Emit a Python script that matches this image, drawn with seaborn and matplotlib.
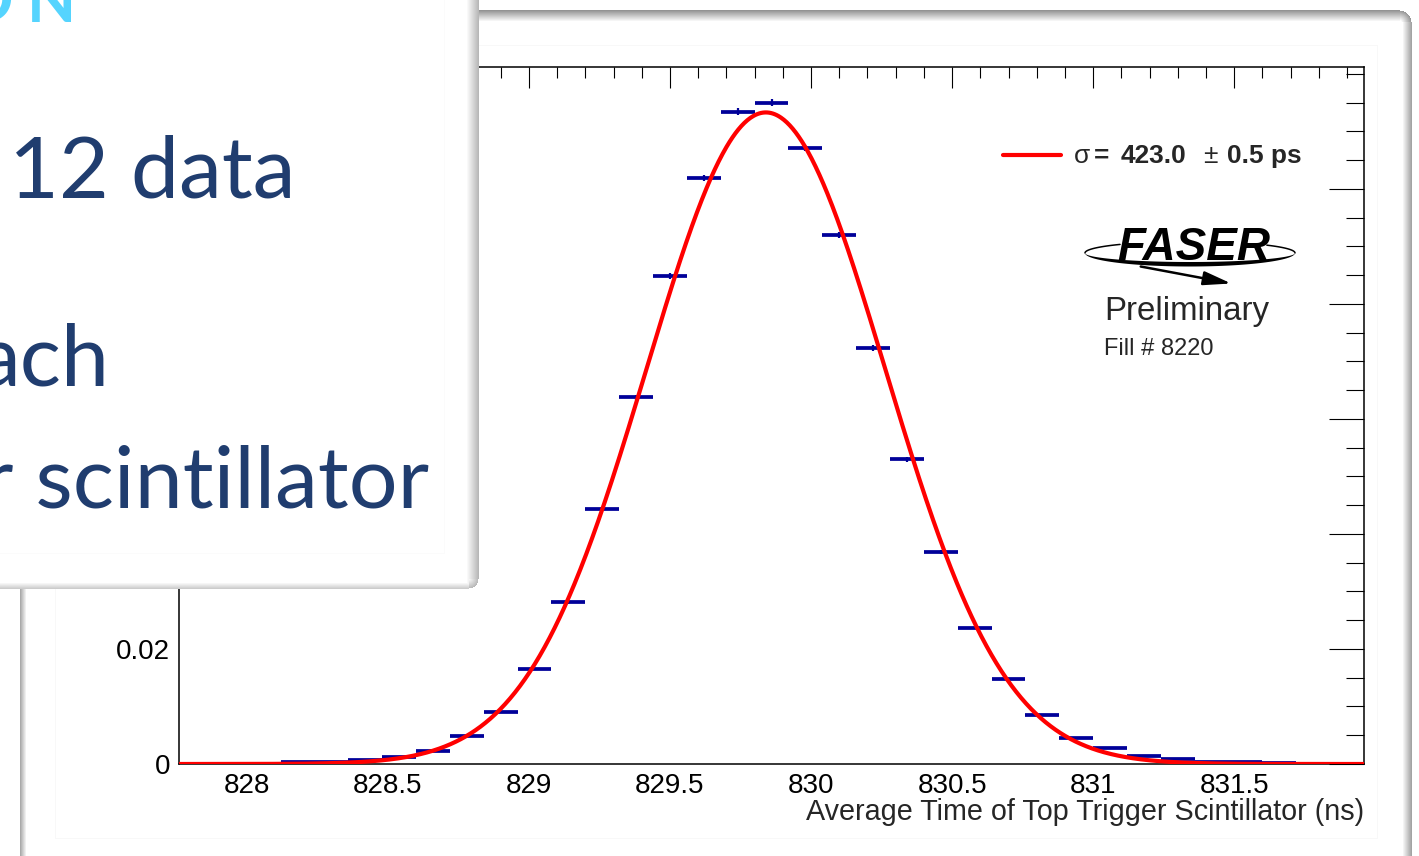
import numpy as np
import matplotlib
matplotlib.use("Agg")
import matplotlib.pyplot as plt
import seaborn as sns
from matplotlib.lines import Line2D
from matplotlib.patches import Polygon, FancyArrowPatch
from matplotlib.ticker import FixedLocator, MultipleLocator

# ---------------- data ----------------
# histogram binning: 35 bins of 0.12 ns starting at 827.76 ns
bin_low = 827.76
bin_width = 0.12
fraction = [0.0, 0.0, 0.00002, 0.0003, 0.0004, 0.00064, 0.00127, 0.0023, 0.0048, 0.0091,
            0.0165, 0.0281, 0.0443, 0.0638, 0.0849, 0.1019, 0.1134, 0.1150, 0.1071, 0.0920,
            0.0723, 0.0530, 0.0369, 0.0237, 0.0148, 0.0085, 0.0046, 0.0027, 0.00145, 0.0008,
            0.0004, 0.0003, 0.0001, 0.00005, 0.00002]
fraction_err = [0.0, 0.0, 0.00001, 0.00003, 0.00004, 0.00004, 0.00006, 0.00008, 0.00012, 0.00017,
                0.00023, 0.0003, 0.00037, 0.00045, 0.00052, 0.00056, 0.0006, 0.0006, 0.00058, 0.00054,
                0.00048, 0.00041, 0.00034, 0.00027, 0.00022, 0.00016, 0.00012, 0.00009, 0.00007, 0.00005,
                0.00004, 0.00003, 0.00002, 0.00001, 0.00001]

# Gaussian fit result
fit_mean = 829.84        # ns
fit_sigma_ps = 423.0     # ps
fit_sigma_err_ps = 0.5   # ps
fit_peak = 0.1133

y_max = 0.1212
x_ticks = [828, 828.5, 829, 829.5, 830, 830.5, 831, 831.5]
x_tick_labels = ["828", "828.5", "829", "829.5", "830", "830.5", "831", "831.5"]
y_ticks = [0, 0.02, 0.04, 0.06, 0.08, 0.1]
# labels above 0.02 sit underneath the slide text box
y_tick_labels = ["0", "0.02", "", "", "", ""]
x_title = "Average Time of Top Trigger Scintillator (ns)"

slide_heading = ["O", "N"]
slide_lines = ["12 data", "ach", "r scintillator"]

# ---------------- figure ----------------
W, H = 1419, 856
sns.set_style("white")
plt.rcParams["font.family"] = ["Liberation Sans", "DejaVu Sans"]

fig = plt.figure(figsize=(W / 100, H / 100), dpi=100)
fig.patch.set_facecolor("white")


def fpos(x, y):
    """pixel position (from top-left) -> figure fraction"""
    return x / W, 1 - y / H


yy, xx = np.mgrid[0:H, 0:W].astype(float)

# slide card behind the plot, with soft edges
card_l, card_t, card_r, rad = 20, 10, 1411, 12
inside = (xx >= card_l) & (xx <= card_r) & (yy >= card_t)
ccx, ccy = card_r - rad, card_t + rad
corner = (xx > ccx) & (yy < ccy)
dist_c = np.hypot(xx - ccx, yy - ccy)
inside &= ~(corner & (dist_c > rad))
s_edges = np.maximum.reduce([
    0.33 * np.clip(1 - (xx - card_l) / 6, 0, 1),
    0.42 * np.clip(1 - (yy - card_t) / 11, 0, 1),
    0.36 * np.clip(1 - (card_r - xx) / 9, 0, 1),
])
s_corner = 0.42 * np.clip(1 - (rad - dist_c) / 10, 0, 1)
shade = np.where(corner, s_corner, s_edges)
bg = np.where(inside, 1 - shade, 1.0)
# faint outline of the embedded canvas
faint = 0.975
bg[45, 55:1378] = np.minimum(bg[45, 55:1378], faint)
bg[838, 55:1378] = np.minimum(bg[838, 55:1378], faint)
bg[45:839, 55] = np.minimum(bg[45:839, 55], faint)
bg[45:839, 1377] = np.minimum(bg[45:839, 1377], faint)
fig.figimage(np.dstack([bg] * 3), 0, 0, origin="upper", zorder=-10)

# ---------------- plot ----------------
ax = fig.add_axes([179 / W, 1 - 764 / H, (1364 - 179) / W, (764 - 67) / H])
ax.set_facecolor("white")

blue = "#000099"
frac = np.array(fraction)
err = np.array(fraction_err)
centers = bin_low + bin_width * (np.arange(len(frac)) + 0.5)
ax.hlines(frac, centers - bin_width / 2, centers + bin_width / 2, colors=blue, lw=2.7, zorder=2)
ax.vlines(centers, frac - err, frac + err, colors=blue, lw=1.6, zorder=2)

x_lo, x_hi = bin_low, bin_low + bin_width * len(frac)
xfit = np.linspace(x_lo, x_hi, 1200)
yfit = fit_peak * np.exp(-0.5 * ((xfit - fit_mean) / (fit_sigma_ps / 1000.0)) ** 2)
sns.lineplot(x=xfit, y=yfit, ax=ax, color="#ff0000", lw=3.0, estimator=None, zorder=3)

ax.set_xlim(x_lo, x_hi)
ax.set_ylim(0, y_max)
ax.xaxis.set_major_locator(FixedLocator(x_ticks))
ax.set_xticklabels(x_tick_labels)
ax.xaxis.set_minor_locator(MultipleLocator(0.1))
ax.yaxis.set_major_locator(FixedLocator(y_ticks))
ax.set_yticklabels(y_tick_labels)
ax.yaxis.set_minor_locator(MultipleLocator(0.005))

for sp in ax.spines.values():
    sp.set_linewidth(1.1)
    sp.set_color("black")
ax.tick_params(which="both", direction="in", top=True, right=True, colors="black",
               labelsize=20, width=0.8)
ax.tick_params(axis="x", which="major", length=15, pad=6.5)
ax.tick_params(axis="x", which="minor", length=8)
ax.tick_params(axis="y", which="major", length=25, pad=6.5)
ax.tick_params(axis="y", which="minor", length=13)
ax.grid(False)

ax.set_xlabel(x_title, fontsize=20.7, loc="right")
ax.xaxis.set_label_coords(1.0, -(798 - 764) / (764 - 67))
ax.set_ylabel("")

# legend entry for the fit
fig.add_artist(Line2D([1003 / W, 1061 / W], [1 - 155 / H, 1 - 155 / H], color="#ff0000",
                      lw=3.0, transform=fig.transFigure))
leg_size = 18.9
fig.text(*fpos(1074, 163), "σ", fontsize=leg_size, va="baseline", ha="left")
fig.text(*fpos(1094, 163), "=", fontsize=leg_size, fontweight="bold", va="baseline", ha="left")
fig.text(*fpos(1121, 163), f"{fit_sigma_ps:.1f}", fontsize=leg_size, fontweight="bold",
         va="baseline", ha="left")
fig.text(*fpos(1203, 163), "±", fontsize=leg_size, va="baseline", ha="left")
fig.text(*fpos(1227, 163), f"{fit_sigma_err_ps:.1f} ps", fontsize=leg_size, fontweight="bold",
         va="baseline", ha="left")

# experiment logo
t = np.linspace(0, np.pi, 160)
lcx, lcy, la = 1190, 253, 105
outer = np.column_stack([lcx + la * np.cos(t), lcy + 13.5 * np.sin(t)])
inner = np.column_stack([lcx + la * np.cos(t[::-1]), lcy + 9.0 * np.sin(t[::-1])])
swoosh = np.vstack([outer, inner])
fig.add_artist(Polygon(np.column_stack([swoosh[:, 0] / W, 1 - swoosh[:, 1] / H]), closed=True,
                       transform=fig.transFigure, facecolor="black", edgecolor="none"))
for ta, tb in [(0.0, 0.75), (2.3, np.pi)]:
    tt = np.linspace(ta, tb, 60)
    arc_x = (lcx + la * np.cos(tt)) / W
    arc_y = 1 - (lcy - 11.5 * np.sin(tt)) / H
    fig.add_artist(Line2D(arc_x, arc_y, color="black", lw=1.1, transform=fig.transFigure))
fig.add_artist(FancyArrowPatch(fpos(1138, 266), fpos(1234, 284), transform=fig.transFigure,
                               arrowstyle="-|>,head_length=1.2,head_width=0.3",
                               mutation_scale=14, lw=1.8, color="black"))
fig.text(*fpos(1194, 260), "FASER", fontsize=33, fontweight="bold", fontstyle="italic",
         ha="center", va="baseline", color="black")
fig.text(*fpos(1104, 320), "Preliminary", fontsize=23.8, va="baseline", ha="left")
fig.text(*fpos(1104, 355), "Fill # 8220", fontsize=17, va="baseline", ha="left")

# ---------------- slide text box on top ----------------
bx, by, br = 478, 588, 10
box = (xx <= bx) & (yy <= by)
bcx, bcy = bx - br, by - br
bcorner = (xx > bcx) & (yy > bcy)
dist_b = np.hypot(xx - bcx, yy - bcy)
box &= ~(bcorner & (dist_b > br))
sb_edges = np.maximum(0.28 * np.clip(1 - (bx - xx) / 12, 0, 1),
                      0.20 * np.clip(1 - (by - yy) / 6, 0, 1))
sb_corner = 0.28 * np.clip(1 - (br - dist_b) / 10, 0, 1)
sb = np.where(bcorner, sb_corner, sb_edges)
gray = 1 - sb
gray[:553, 444] = np.minimum(gray[:553, 444], 0.985)
gray[553, :445] = np.minimum(gray[553, :445], 0.985)
fig.figimage(np.dstack([gray, gray, gray, box.astype(float)]), 0, 0, origin="upper", zorder=10)

navy = "#203d6f"
cyan = "#55d4fe"
slide_font = ["Lato", "DejaVu Sans"]
fig.text(*fpos(13, 22), slide_heading[0], fontsize=46, fontweight="bold", color=cyan,
         family=slide_font, ha="right", va="baseline", zorder=12)
fig.text(*fpos(27, 22), slide_heading[1], fontsize=46, fontweight="bold", color=cyan,
         family=slide_font, ha="left", va="baseline", zorder=12)
for (x0, yb), line in zip([(9, 197), (-23, 385), (-18, 508)], slide_lines):
    fig.text(*fpos(x0, yb), line, fontsize=62, color=navy, family=slide_font,
             ha="left", va="baseline", zorder=12)

fig.savefig("out.png", dpi=100, facecolor="white")
